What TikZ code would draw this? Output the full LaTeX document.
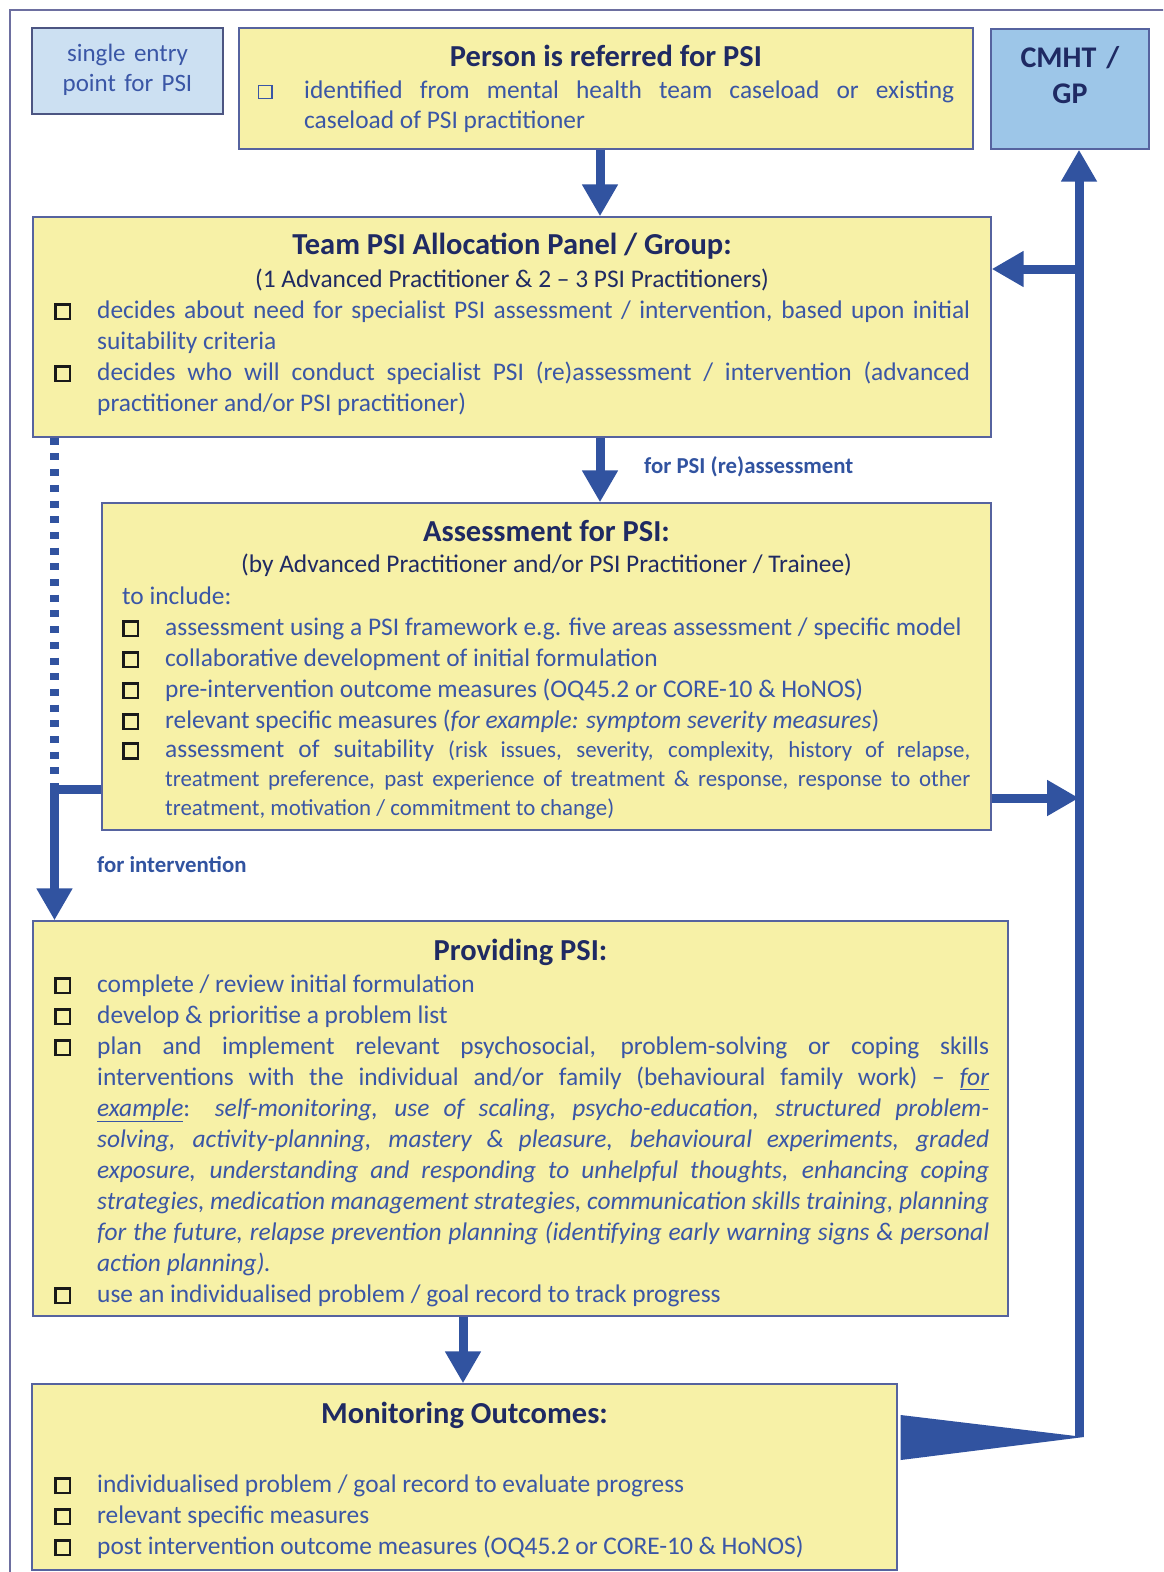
\documentclass[tikz,border=0pt]{standalone}
\usepackage{fontspec}
\setmainfont{Carlito}
\usetikzlibrary{arrows.meta,calc}
\definecolor{yfill}{HTML}{F7F1A7}
\definecolor{bdr}{HTML}{56639F}
\definecolor{lblue}{HTML}{CCE0F2}
\definecolor{mblue}{HTML}{9DC6E8}
\definecolor{txtb}{HTML}{3A56A6}
\definecolor{navy}{HTML}{1F2A63}
\definecolor{arrb}{HTML}{3153A0}
\definecolor{frm}{HTML}{6D6FA0}
\newcommand\cbx{{\setlength{\fboxsep}{0pt}\setlength{\fboxrule}{2.3pt}\color{black!90}\fbox{\rule{0pt}{12.5pt}\hspace{12.5pt}}}}
\newcommand\cbthin{{\setlength{\fboxsep}{0pt}\setlength{\fboxrule}{1.2pt}\color{txtb}\fbox{\rule{0pt}{12pt}\hspace{12pt}}}}
\newcommand\itmA{\noindent\hangindent=43pt\hangafter=1\makebox[43pt][l]{\cbx}\ignorespaces}
\newcommand\itm{\par\itmA}
\newcommand\itmP{\noindent\hangindent=46pt\hangafter=1\makebox[46pt][l]{\cbthin}\ignorespaces}
\hyphenpenalty=10000
\exhyphenpenalty=10000
\tolerance=9999
\tikzset{
  ybox/.style={draw=bdr, line width=1.4pt, fill=yfill, inner sep=0pt, rectangle},
  ttl/.style={font=\fontsize{30.5}{36}\selectfont\bfseries, text=navy, inner sep=0pt, anchor=base},
  subt/.style={font=\fontsize{25.4}{31}\selectfont, text=navy, inner sep=0pt, anchor=base},
  body/.style={font=\fontsize{25.4}{31}\selectfont, text=txtb, inner sep=0pt, anchor=base west, align=justify},
  arr/.style={draw=arrb, line width=9pt, -{Triangle[width=34pt,length=32pt]}},
  lbl/.style={font=\fontsize{22.8}{27}\selectfont\bfseries, text=arrb, inner sep=0pt, anchor=base west},
}
\begin{document}
\begin{tikzpicture}[x=1pt,y=-1pt]
\useasboundingbox (0,0) rectangle (1163,1572);
\begin{scope}
  \clip (0,0) rectangle (1163,1572);
  \draw[frm, line width=1.3pt] (10,10) rectangle (1400,1800);
\end{scope}

% boxes
\node[draw=navy!80, line width=1.4pt, fill=lblue, inner sep=0pt, minimum width=191pt, minimum height=86pt] (single) at (127.5,71) {};
\node[ybox, minimum width=734pt, minimum height=121pt] (person) at (606,88.5) {};
\node[draw=bdr, line width=1.4pt, fill=mblue, inner sep=0pt, minimum width=158pt, minimum height=120pt] (cmht) at (1070,89) {};
\node[ybox, minimum width=958pt, minimum height=220pt] (team) at (512,327) {};
\node[ybox, minimum width=889pt, minimum height=327pt] (assess) at (546.5,666.5) {};
\node[ybox, minimum width=975pt, minimum height=395pt] (provide) at (520.5,1118.5) {};
\node[ybox, minimum width=865pt, minimum height=186pt] (monitor) at (464.5,1477) {};

% texts
\node[font=\fontsize{25}{30}\selectfont, text=txtb, text width=191pt, align=center, inner sep=0pt, anchor=base] (singletxt) at (127.5,61) {single entry\\point for PSI};
\node[font=\fontsize{30}{36}\selectfont\bfseries, text=navy, text width=158pt, align=center, inner sep=0pt, anchor=base] (cmhttxt) at (1070,67) {CMHT /\\GP};

\node[ttl] (personttl) at (606,66) {Person is referred for PSI};
\node[body, font=\fontsize{25.4}{30}\selectfont, text width=696pt] (persontxt) at (258,98) {\itmP identified from mental health team caseload or existing\linebreak caseload of PSI practitioner\par};

\node[ttl] (teamttl) at (512,254) {Team PSI Allocation Panel / Group:};
\node[subt] (teamsub) at (512,287) {(1 Advanced Practitioner \& 2 – 3 PSI Practitioners)};
\node[body, text width=916pt] (teamtxt) at (54,318) {\itmA decides about need for specialist PSI assessment / intervention, based upon initial\linebreak suitability criteria \itm decides who will conduct specialist PSI (re)assessment / intervention (advanced\linebreak practitioner and/or PSI practitioner)\par};

\node[ttl] (assttl) at (546.5,541) {Assessment for PSI:};
\node[subt] (asssub) at (546.5,572) {(by Advanced Practitioner and/or PSI Practitioner / Trainee)};
\node[body, text width=848pt] (asstxt) at (122,604) {\noindent to include: \itm assessment using a PSI framework e.g. five areas assessment / specific model \itm collaborative development of initial formulation \itm pre-intervention outcome measures (OQ45.2 or CORE-10 \& HoNOS) \itm relevant specific measures (\textit{for example: symptom severity measures}) \itm assessment of suitability \fontsize{22.9}{29.2}\selectfont(risk issues, severity, complexity, history of relapse,\linebreak treatment preference, past experience of treatment \& response, response to other\linebreak treatment, motivation / commitment to change)\par};

\node[ttl] (provttl) at (520.5,960) {Providing PSI:};
\node[body, text width=935pt] (provtxt) at (54,992) {\itmA complete / review initial formulation \itm develop \& prioritise a problem list \itm plan and implement relevant psychosocial, problem-solving or coping skills\linebreak interventions with the individual and/or family (behavioural family work) – \underline{\textit{for}}\linebreak\underline{\textit{example}}: \textit{self-monitoring, use of scaling, psycho-education, structured problem-}\linebreak\textit{solving, activity-planning, mastery \& pleasure, behavioural experiments, graded}\linebreak\textit{exposure, understanding and responding to unhelpful thoughts, enhancing coping}\linebreak\textit{strategies, medication management strategies, communication skills training, planning}\linebreak\textit{for the future, relapse prevention planning (identifying early warning signs \& personal}\linebreak\textit{action planning).} \itm use an individualised problem / goal record to track progress\par};

\node[ttl] (monttl) at (464.5,1423) {Monitoring Outcomes:};
\node[body, text width=822pt] (montxt) at (54,1492) {\itmA individualised problem / goal record to evaluate progress \itm relevant specific measures \itm post intervention outcome measures (OQ45.2 or CORE-10 \& HoNOS)\par};

\node[lbl] (lblre) at (644,473) {for PSI (re)assessment};
\node[lbl] (lblint) at (97,872) {for intervention};

% connector coordinates
\coordinate (a1) at (600,0);
\coordinate (a2) at (463,0);
\coordinate (dx) at (54.5,0);
\coordinate (lj) at (0,789);
\coordinate (ljd) at (0,785);
\coordinate (wtip) at (1079,1437);
\coordinate (tj) at (1079,269);
\coordinate (aj) at (1079,798);
\coordinate (wy1) at (0,1415);
\coordinate (wy2) at (0,1460);
\coordinate (wpt) at (1084,1437);

% connectors
\draw[arr] (person.south -| a1) -- (team.north -| a1);
\draw[arr] (team.south -| a1) -- (assess.north -| a1);
\draw[arr] (provide.south -| a2) -- (monitor.north -| a2);
\draw[arrb, line width=9pt, dash pattern=on 7pt off 8.7pt] (team.south -| dx) -- (dx |- ljd);
\draw[arr, line join=miter] (assess.west |- lj) -- (dx |- lj) -- (provide.north -| dx);
\draw[arr] (wtip) -- (cmht.south -| wtip);
\draw[arr] (tj) -- (team.east |- tj);
\draw[arr] (assess.east |- aj) -- (aj);
\fill[arrb] ($(monitor.east |- wy1)+(3,0)$) -- (wpt) -- ($(monitor.east |- wy2)+(3,0)$) -- cycle;
\end{tikzpicture}
\end{document}
